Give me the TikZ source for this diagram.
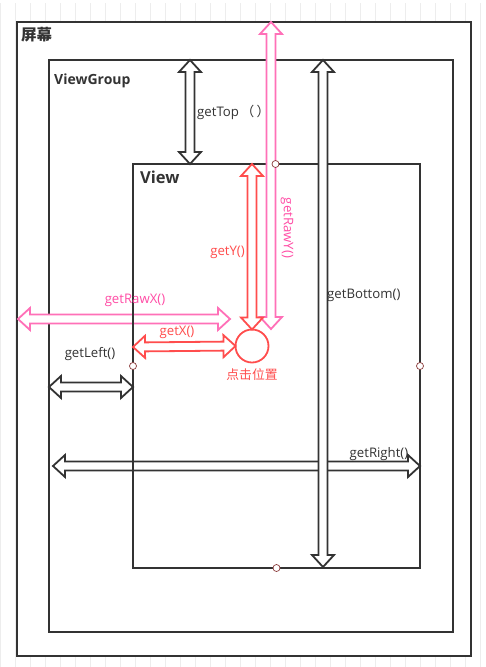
\documentclass[tikz,border=0pt]{standalone}
\usepackage{fontspec}
\setmainfont{Open Sans}
\newfontfamily\cjk{Noto Sans CJK SC}
\usetikzlibrary{calc}
\definecolor{frame}{HTML}{333333}
\definecolor{tapred}{HTML}{FF4D4D}
\definecolor{rawpink}{HTML}{FF70B8}
\definecolor{rawtext}{HTML}{FF4DA6}
\definecolor{dotred}{HTML}{8A3A3A}
\definecolor{gridgray}{HTML}{EDEDED}
% hollow double block arrow between two named points
\newcommand{\dblarrow}[3]{%
  \draw[#1] (#2)
    -- ($(#2)!12pt!(#3)!11pt!90:(#3)$)
    -- ($(#2)!12pt!(#3)!4.5pt!90:(#3)$)
    -- ($(#3)!12pt!(#2)!4.5pt!-90:(#2)$)
    -- ($(#3)!12pt!(#2)!11pt!-90:(#2)$)
    -- (#3)
    -- ($(#3)!12pt!(#2)!11pt!90:(#2)$)
    -- ($(#3)!12pt!(#2)!4.5pt!90:(#2)$)
    -- ($(#2)!12pt!(#3)!4.5pt!-90:(#3)$)
    -- ($(#2)!12pt!(#3)!11pt!-90:(#3)$)
    -- cycle;}

\begin{document}
\begin{tikzpicture}[x=1pt,y=-1pt,line join=miter,
  box/.style={draw=frame,line width=2pt,inner sep=0pt,outer sep=0pt,anchor=north west},
  grayarrow/.style={draw=frame,fill=white,line width=1.8pt},
  redarrow/.style={draw=tapred,fill=white,line width=1.8pt},
  pinkarrow/.style={draw=rawpink,fill=white,line width=1.8pt},
  lbl/.style={font=\fontsize{13.2}{16}\selectfont,text=frame,inner sep=0pt},
  title/.style={text=frame,inner sep=0pt,anchor=west},
  dot/.style={circle,draw=dotred,fill=white,line width=0.7pt,minimum size=7pt,inner sep=0pt}]
\useasboundingbox (0,0) rectangle (486,667);
\fill[white] (0,0) rectangle (486,667);
\draw[gridgray,line width=0.6pt,step=15] (0,3) grid (486,667);

% frames
\node[box,fill=white,minimum width=454pt,minimum height=634pt] (screen) at (17,22) {};
\node[box,minimum width=404pt,minimum height=572pt] (viewgroup) at (49,60) {};
\node[title,font=\cjk\bfseries\fontsize{15.5}{18}\selectfont] (screenlbl) at (21,35) {屏幕};
\node[title,font=\bfseries\fontsize{14}{17}\selectfont] (grouplbl) at (54,81) {ViewGroup};

% click point
\node[circle,draw=tapred,line width=1.8pt,minimum size=33pt,inner sep=0pt,outer sep=0pt] (tap) at (252,346) {};

% free ends of the arrows
\coordinate (gt1) at (190,60);  \coordinate (gt2) at (190,164);
\coordinate (gb1) at (323,60);  \coordinate (gb2) at (323,567);
\coordinate (gr1) at (53,466);  \coordinate (gr2) at (420,466);
\coordinate (gl1) at (49,387);  \coordinate (gl2) at (133,387);
\coordinate (grx1) at (18,319); \coordinate (grx2) at (230,319);
\coordinate (gx1) at (133,347);
\coordinate (gry1) at (271,22); \coordinate (gry2) at (271,329);

\dblarrow{pinkarrow}{grx1}{grx2}
\dblarrow{grayarrow}{gr1}{gr2}
\node[box,minimum width=287pt,minimum height=404pt] (view) at (133,164) {};
\node[title,font=\bfseries\fontsize{16.5}{20}\selectfont] (viewlbl) at (140,177) {View};

\dblarrow{pinkarrow}{gry1}{gry2}
\dblarrow{grayarrow}{gb1}{gb2}
\dblarrow{grayarrow}{gt1}{gt2}
\dblarrow{grayarrow}{gl1}{gl2}
\dblarrow{redarrow}{gx1}{tap.west}
\dblarrow{redarrow}{view.north -| tap}{tap.north}

% anchor points of the view
\node[dot] (dotn) at ([xshift=-1pt]view.north) {};
\node[dot] (dotw) at (view.west) {};
\node[dot] (dote) at (view.east) {};
\node[dot] (dots) at (view.south) {};

% labels
\node[lbl,anchor=west] (toplbl) at (197,112) {getTop\,{\cjk（\,）}};
\node[lbl,anchor=west] (bottomlbl) at (327,295) {getBottom()};
\node[lbl] (rightlbl) at (379,454) {getRight()};
\node[lbl] (leftlbl) at (90,354) {getLeft()};
\node[lbl,text=rawtext] (rawxlbl) at (135,300) {getRawX()};
\node[lbl,text=rawtext,rotate=-90] (rawylbl) at (287,228) {getRawY()};
\node[lbl,text=tapred] (xlbl) at (177,332) {getX()};
\node[lbl,text=tapred,anchor=east] (ylbl) at (245,252) {getY()};
\node[lbl,text=tapred,font=\cjk\fontsize{12.8}{15}\selectfont] (taplbl) at (252,375) {点击位置};
\end{tikzpicture}
\end{document}
